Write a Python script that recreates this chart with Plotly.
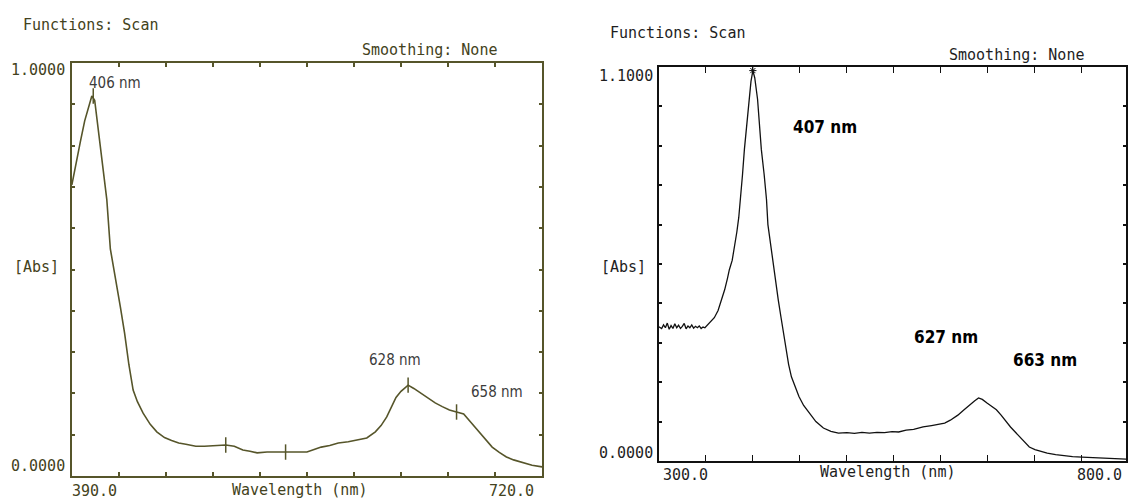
import plotly.graph_objects as go

# ---------------- data ----------------
left_wl = [390, 393, 396, 399, 402, 404, 406, 408, 410, 412, 414.5, 417, 419, 421.6, 424, 427, 430,
           433, 436, 440, 445, 449.6, 455, 460, 465, 470, 477, 483, 490, 498, 504, 510, 515, 520,
           527, 533, 540, 547, 555, 560, 565, 571, 577, 584, 590, 597, 603, 607, 611, 614, 617.5,
           621, 626, 630, 635, 640, 645, 650, 655, 660, 665, 670, 675, 680, 685, 690, 695, 700,
           707, 713, 720]
left_abs = [0.705, 0.76, 0.81, 0.86, 0.90, 0.92, 0.91, 0.85, 0.79, 0.73, 0.67, 0.55, 0.51, 0.467,
            0.41, 0.346, 0.27, 0.208, 0.18, 0.152, 0.125, 0.107, 0.093, 0.086, 0.080, 0.077,
            0.072, 0.072, 0.073, 0.075, 0.072, 0.063, 0.060, 0.056, 0.058, 0.058, 0.058, 0.057,
            0.058, 0.064, 0.070, 0.074, 0.080, 0.083, 0.087, 0.092, 0.107, 0.122, 0.143, 0.165,
            0.19, 0.205, 0.22, 0.212, 0.20, 0.188, 0.177, 0.168, 0.160, 0.155, 0.150, 0.130,
            0.11, 0.088, 0.070, 0.057, 0.046, 0.039, 0.031, 0.026, 0.022]
left_mark_wl = [405, 498, 540, 626, 660]
left_mark_abs = [0.92, 0.075, 0.058, 0.22, 0.155]

right_wl = [300, 303, 305, 307, 309, 311, 313, 315, 317, 319, 321, 323, 325, 327, 329, 331, 333,
            335, 337, 339, 341, 343, 345, 347, 349, 352, 355, 359, 363, 367, 370, 373, 375, 378,
            380, 383, 385, 387, 389, 391, 393, 396, 398, 400, 402, 405, 407, 409, 412, 414.5,
            416, 418, 420, 424, 427, 430, 433, 436, 438, 441, 445, 449, 454, 460, 467, 475, 483,
            491, 500, 508, 516, 524, 532, 540, 548, 555, 563, 571, 581, 590, 597, 604, 610, 618,
            624, 630, 636, 640, 644, 649, 654, 659, 664, 669, 674, 679, 684, 689, 694, 700, 706,
            713, 722, 730, 740, 750, 760, 770, 780, 791, 797]
right_abs = [0.375, 0.370, 0.380, 0.372, 0.385, 0.368, 0.378, 0.370, 0.383, 0.372, 0.379, 0.370,
             0.376, 0.384, 0.369, 0.377, 0.372, 0.380, 0.371, 0.376, 0.372, 0.377, 0.370, 0.374,
             0.372, 0.380, 0.389, 0.400, 0.420, 0.450, 0.478, 0.510, 0.534, 0.560, 0.590, 0.640,
             0.680, 0.730, 0.800, 0.870, 0.930, 1.010, 1.060, 1.090, 1.070, 1.010, 0.940, 0.870,
             0.800, 0.730, 0.660, 0.620, 0.580, 0.500, 0.450, 0.400, 0.350, 0.310, 0.270, 0.235,
             0.205, 0.180, 0.155, 0.134, 0.110, 0.092, 0.083, 0.078, 0.079, 0.077, 0.080, 0.078,
             0.080, 0.079, 0.082, 0.081, 0.086, 0.088, 0.095, 0.099, 0.103, 0.106, 0.114, 0.128,
             0.142, 0.156, 0.168, 0.176, 0.172, 0.162, 0.152, 0.143, 0.128, 0.110, 0.095, 0.081,
             0.066, 0.052, 0.039, 0.032, 0.027, 0.022, 0.018, 0.015, 0.012, 0.011, 0.010, 0.008,
             0.007, 0.006, 0.005]
right_mark_wl = [400]
right_mark_abs = [1.09]

left_ticks_x = [390 + 33 * i for i in range(11)]
left_ticks_y = [round(0.1 * i, 2) for i in range(11)]
right_ticks_x = [300 + 50 * i for i in range(11)]
right_ticks_y = [round(0.11 * i, 3) for i in range(11)]

W, H = 1128, 503
OLIVE = "#56552a"
OLIVE_TXT = "#434220"
BLACK = "#111111"
MONO = "DejaVu Sans Mono, Liberation Mono, monospace"
NARROW = "Liberation Sans Narrow, DejaVu Sans Condensed, Liberation Sans, Arial"


def px(x):
    return x / W


def py(y):
    return 1 - y / H


fig = go.Figure()

fig.add_trace(go.Scatter(x=left_wl, y=left_abs, mode="lines", xaxis="x", yaxis="y",
                         line=dict(color=OLIVE, width=1.6), showlegend=False, hoverinfo="skip"))
fig.add_trace(go.Scatter(x=left_mark_wl, y=left_mark_abs, mode="markers", xaxis="x", yaxis="y",
                         marker=dict(symbol="line-ns", size=11, line=dict(color=OLIVE, width=1.5)),
                         showlegend=False, hoverinfo="skip"))
fig.add_trace(go.Scatter(x=right_wl, y=right_abs, mode="lines", xaxis="x2", yaxis="y2",
                         line=dict(color=BLACK, width=1.3), showlegend=False, hoverinfo="skip"))
fig.add_trace(go.Scatter(x=right_mark_wl, y=right_mark_abs, mode="markers", xaxis="x2", yaxis="y2",
                         marker=dict(symbol="asterisk", size=6, line=dict(color=BLACK, width=1)),
                         showlegend=False, hoverinfo="skip"))

ax_common = dict(showgrid=False, zeroline=False, showticklabels=False, ticks="inside",
                 mirror="ticks", showline=True)

fig.update_layout(
    width=W, height=H,
    margin=dict(l=0, r=0, t=0, b=0),
    paper_bgcolor="white", plot_bgcolor="white",
    xaxis=dict(domain=[px(72), px(543)], range=[390, 720], tickvals=left_ticks_x,
               linecolor=OLIVE, linewidth=2, tickcolor=OLIVE, ticklen=4, tickwidth=1.5,
               anchor="y", **ax_common),
    yaxis=dict(domain=[py(476), py(63)], range=[0, 1.0], tickvals=left_ticks_y,
               linecolor=OLIVE, linewidth=2, tickcolor=OLIVE, ticklen=3, tickwidth=1.5,
               anchor="x", **ax_common),
    xaxis2=dict(domain=[px(660), 1.0], range=[300, 300 + 468 / 0.942], tickvals=right_ticks_x,
                linecolor=BLACK, linewidth=2, tickcolor=BLACK, ticklen=6, tickwidth=1.2,
                anchor="y2", **ax_common),
    yaxis2=dict(domain=[py(461), py(67)], range=[0, 1.1], tickvals=right_ticks_y,
                linecolor=BLACK, linewidth=2, tickcolor=BLACK, ticklen=3, tickwidth=1.5,
                anchor="x2", **ax_common),
)

annotations = []


def txt(text, x, y, anchor="left", family=MONO, size=15, color=OLIVE_TXT, bold=False):
    if bold:
        text = "<b>" + text + "</b>"
    annotations.append(dict(text=text, x=px(x), y=py(y), xref="paper", yref="paper",
                            xanchor=anchor, yanchor="middle", showarrow=False,
                            font=dict(family=family, size=size, color=color)))


# left panel texts
txt("Functions: Scan", 21, 25)
txt("Smoothing: None", 361, 50)
txt("1.0000", 67, 70, "right")
txt("[Abs]", 12, 267)
txt("0.0000", 67, 466, "right")
txt("390.0", 95, 491, "center")
txt("Wavelength (nm)", 300, 490, "center")
txt("720.0", 512, 491, "center")
txt("406 nm", 87, 83, family=NARROW, size=15, color="#3c3c3c")
txt("628 nm", 368, 360, family=NARROW, size=15, color="#3c3c3c")
txt("658 nm", 470, 392, family=NARROW, size=15, color="#3c3c3c")

# right panel texts
RT = "#1e1e1e"
txt("Functions: Scan", 609, 33, color=RT)
txt("Smoothing: None", 949, 55, color=RT)
txt("1.1000", 656, 76, "right", color=RT)
txt("[Abs]", 600, 267, color=RT)
txt("0.0000", 656, 453, "right", color=RT)
txt("300.0", 687, 475, "center", color=RT)
txt("Wavelength (nm)", 889, 472, "center", color=RT)
txt("800.0", 1126, 475, "right", color=RT)
txt("407 nm", 792, 127, family=NARROW, size=17, color="#000000", bold=True)
txt("627 nm", 914, 337, family=NARROW, size=17, color="#000000", bold=True)
txt("663 nm", 1013, 360, family=NARROW, size=17, color="#000000", bold=True)

fig.update_layout(annotations=annotations)

fig.write_html("out.html",
               config={"displayModeBar": False},
               post_script="document.body.style.margin='0';document.body.style.overflow='hidden';")
